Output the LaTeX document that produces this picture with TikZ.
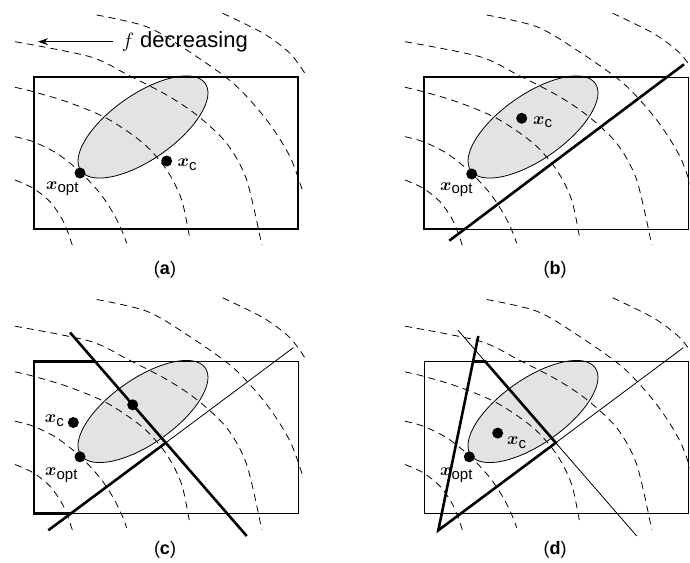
\documentclass[tikz,border=0pt]{standalone}
\usepackage{fontspec}
\setmainfont{Liberation Sans}
\usepackage{bm}
\usetikzlibrary{arrows.meta}
\tikzset{
  contour/.style={line width=0.8pt, dash pattern=on 7pt off 5pt},
  thinln/.style={line width=0.8pt},
  thickln/.style={line width=2.6pt, line join=miter},
  ell/.style={fill=black!11, draw=black, line width=0.8pt},
  dot/.style={circle, fill=black, inner sep=0pt, minimum size=11pt},
  lbl/.style={inner sep=0pt, anchor=base west, font=\fontsize{18}{20}\selectfont},
  lblr/.style={inner sep=0pt, anchor=base east, font=\fontsize{18}{20}\selectfont},
  biglbl/.style={inner sep=0pt, anchor=base east, font=\fontsize{22}{26}\selectfont},
  capt/.style={inner sep=0pt, anchor=base, font=\fontsize{18}{20}\selectfont},
  arrowln/.style={line width=0.8pt, -{Stealth[length=10pt,width=7pt]}},
}
\newcommand{\xopt}{$\bm{x}$\raisebox{-3.5pt}{\fontsize{15}{17}\selectfont opt}}
\newcommand{\xcc}{$\bm{x}$\raisebox{-3.5pt}{\fontsize{15}{17}\selectfont c}}
\newcommand{\basepanel}{%
  \path[ell, rotate around={35:(143,127)}] (143,127) ellipse [x radius=76pt, y radius=32.5pt];
  \draw[contour] plot[smooth] coordinates {(15,180) (33.3,188.3) (50,201.7) (61.7,218.3) (68.3,233.3) (72.7,246.7)};
  \draw[contour] plot[smooth] coordinates {(15,136.7) (33.3,141.7) (56.7,153.3) (80,171.7) (100,193.3) (113.3,213.3) (121.7,230) (126.7,243.3)};
  \draw[contour] plot[smooth] coordinates {(15,87.3) (33.3,91.7) (66.7,101.7) (106.7,118.3) (143.3,143.3) (166.7,170) (181.7,200) (190,240)};
  \draw[contour] plot[smooth] coordinates {(15,41.7) (90,56.7) (128,75) (166.7,95) (196.7,115) (226.7,143.3) (246.7,180) (261.7,245)};
  \draw[contour] plot[smooth] coordinates {(96.7,15) (146.7,26.7) (186.7,50) (233.3,83.3) (266.7,120) (290,156.7) (303.3,193.3)};
  \draw[contour] plot[smooth] coordinates {(222.7,13.3) (263.3,33.3) (290,53.3) (306,75)};
}
\begin{document}
\begin{tikzpicture}[x=1pt, y=-1pt]
\useasboundingbox (0,0) rectangle (690,562);
% ---------------- (a)
\begin{scope}
  \basepanel
  \draw[thickln] (34,77) rectangle (298,229);
  \node[biglbl] (fdec) at (248,47) {$f$ decreasing};
  \coordinate (atip) at (38,41.7);
  \coordinate (atail) at (113,41.7);
  \draw[arrowln] (atail) -- (atip);
  \node[dot] (a-xopt) at (80,173) {};
  \node[dot] (a-xc) at (166.7,161) {};
  \node[lbl] (a-xopt-l) at (46,189) {\xopt};
  \node[lbl] (a-xc-l) at (177.5,166.5) {\xcc};
  \node[capt] (a-cap) at (165,274) {(\textbf{a})};
\end{scope}
% ---------------- (b)
\begin{scope}[shift={(390,0)}]
  \basepanel
  \draw[thinln] (34,77) rectangle (298,229);
  \coordinate (b-l1s) at (59.3,240.7);
  \coordinate (b-l1e) at (294,64.3);
  \draw[thickln] (74.9,229) -- (34,229) -- (34,77) -- (277.1,77);
  \draw[thickln] (b-l1s) -- (b-l1e);
  \node[dot] (b-xopt) at (81.7,174) {};
  \node[dot] (b-xc) at (131.7,118.3) {};
  \node[lbl] (b-xopt-l) at (50,190) {\xopt};
  \node[lbl] (b-xc-l) at (143,124) {\xcc};
  \node[capt] (b-cap) at (165,274) {(\textbf{b})};
\end{scope}
% ---------------- (c)
\begin{scope}[shift={(0,284.5)}]
  \basepanel
  \draw[thinln] (34,77) rectangle (298,229);
  \coordinate (c-l1s) at (48.3,245.8);
  \coordinate (c-l1e) at (293.3,63.2);
  \coordinate (c-l2s) at (70,48);
  \coordinate (c-l2e) at (246.7,251.5);
  \coordinate (c-int) at (165.75,158.27);
  \draw[thinln] (c-int) -- (c-l1e);
  \draw[thickln] (70.8,229) -- (34,229) -- (34,77) -- (95.2,77);
  \draw[thickln] (c-l2s) -- (c-l2e);
  \draw[thickln] (c-l1s) -- (c-int);
  \node[dot] (c-xold) at (132.7,120.3) {};
  \node[dot] (c-xopt) at (80,172.3) {};
  \node[dot] (c-xc) at (73.3,138) {};
  \node[lbl] (c-xopt-l) at (45,191) {\xopt};
  \node[lblr] (c-xc-l) at (64,138) {\xcc};
  \node[capt] (c-cap) at (165,269.5) {(\textbf{c})};
\end{scope}
% ---------------- (d)
\begin{scope}[shift={(390,284.5)}]
  \basepanel
  \draw[thinln] (34,77) rectangle (298,229);
  \coordinate (d-l1s) at (48.3,245.8);
  \coordinate (d-l1e) at (293.3,63.2);
  \coordinate (d-l2s) at (67.8,45.5);
  \coordinate (d-l2e) at (246.7,251.5);
  \coordinate (d-int) at (165.75,158.27);
  \coordinate (d-l3s) at (88.3,51.5);
  \coordinate (d-top2) at (95.2,77);
  \coordinate (d-top3) at (83.05,77);
  \draw[thinln] (d-int) -- (d-l1e);
  \draw[thinln] (d-l2s) -- (d-l2e);
  \draw[thickln] (d-l3s) -- (d-l1s) -- (d-int) -- (d-top2) -- (d-top3);
  \node[dot] (d-xopt) at (79.3,172.3) {};
  \node[dot] (d-xc) at (107.7,148.6) {};
  \node[lbl] (d-xopt-l) at (50,191) {\xopt};
  \node[lbl] (d-xc-l) at (117,160) {\xcc};
  \node[capt] (d-cap) at (165,269.5) {(\textbf{d})};
\end{scope}
\end{tikzpicture}
\end{document}
